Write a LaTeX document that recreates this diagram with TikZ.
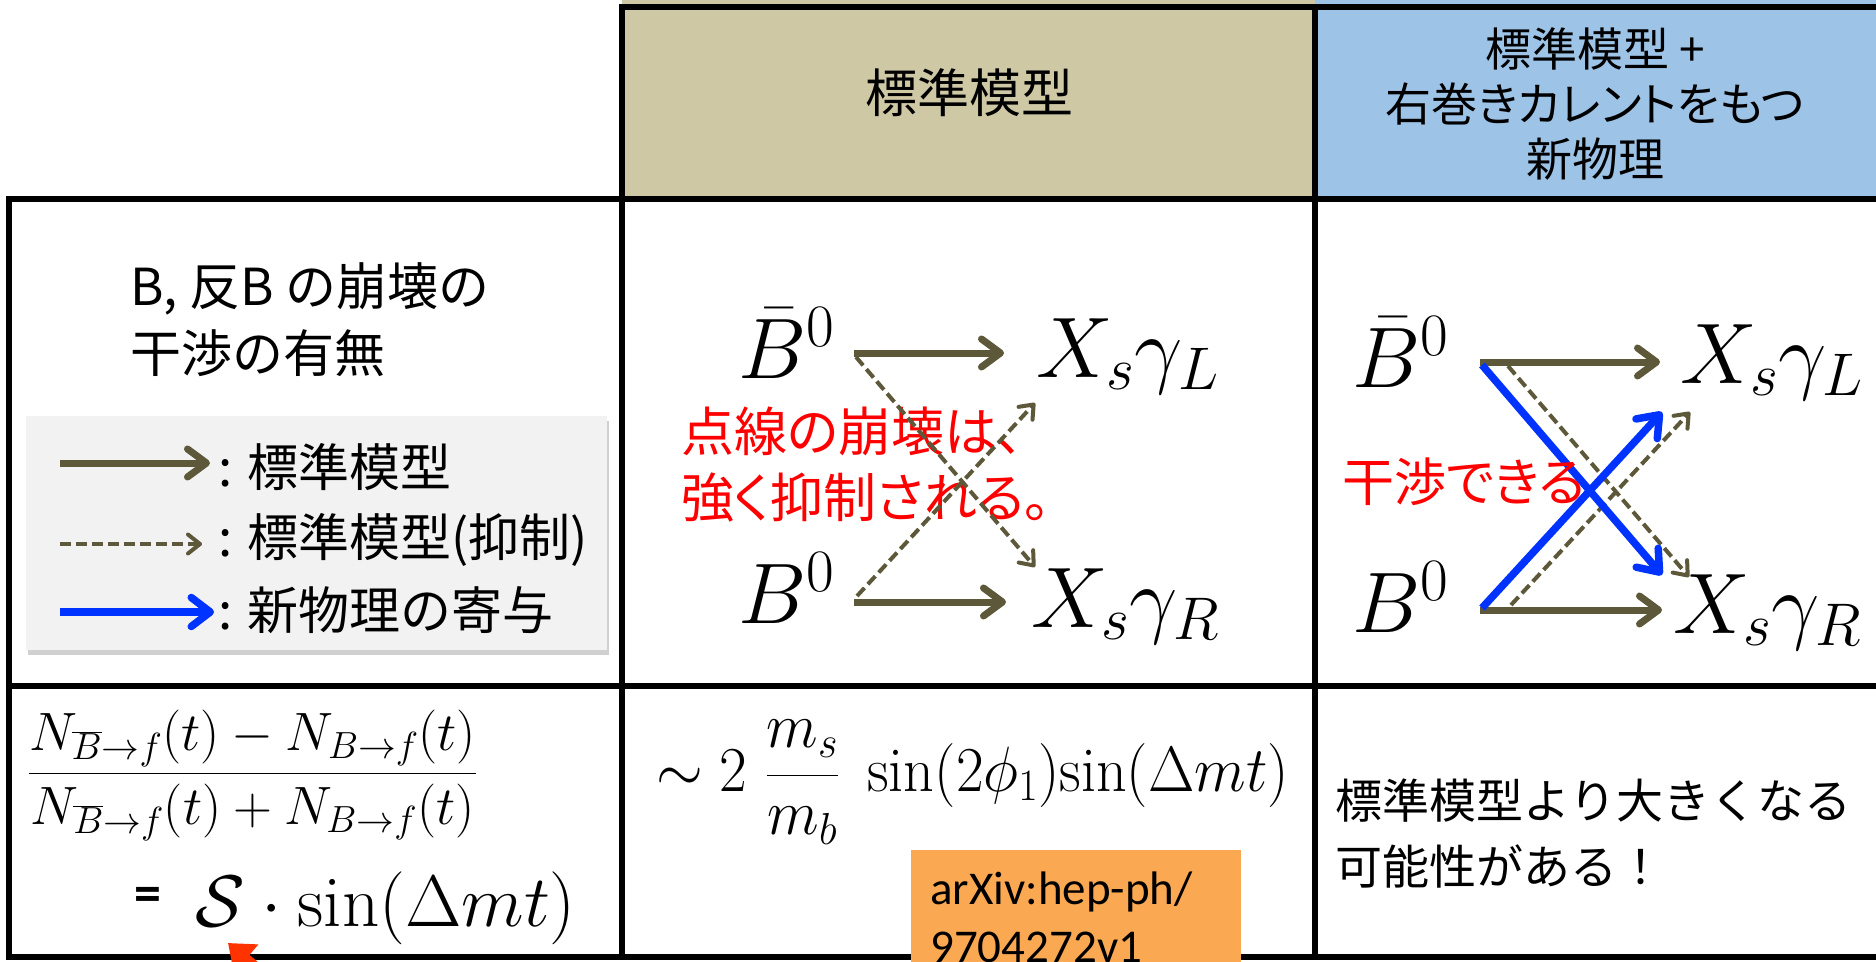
\RequirePackage{fix-cm}
\documentclass[tikz,border=0pt]{standalone}
\usepackage{fontspec}
\usepackage{graphicx}
\usetikzlibrary{arrows.meta,shadows}
\newfontfamily\jpfont{Noto Sans CJK JP}
\newfontfamily\jppfont[RawFeature=+palt]{Noto Sans CJK JP}
\newfontfamily\carlfont{Carlito}
\definecolor{hdrtan}{RGB}{206,200,165}
\definecolor{hdrblue}{RGB}{157,195,230}
\definecolor{smbrown}{RGB}{94,88,58}
\definecolor{npblue}{RGB}{0,51,255}
\definecolor{legbg}{RGB}{242,242,242}
\definecolor{refor}{RGB}{250,168,82}
\definecolor{ptred}{RGB}{255,51,0}
\tikzset{
  tbl/.style={line width=5.5pt, line cap=rect},
  mth/.style={inner sep=0pt, anchor=base west, font=\fontsize{86}{94}\selectfont},
  smarr/.style={draw=smbrown, line width=7pt, -{Straight Barb[round,length=19pt,width=28pt]}},
  dsharr/.style={draw=smbrown, line width=4pt, dash pattern=on 11pt off 5pt, -{Straight Barb[round,length=12pt,width=19pt]}},
  nparr/.style={draw=npblue, line width=7.5pt, -{Straight Barb[round,length=19pt,width=29pt]}},
  redtxt/.style={text=red, inner sep=0pt, align=left, anchor=west},
}
\begin{document}
\begin{tikzpicture}[x=1pt,y=-1pt]
\useasboundingbox (0,0) rectangle (1876,961);
\clip (0,0) rectangle (1876,961);
\fill[white] (0,0) rectangle (1876,961);
% header fills
\fill[hdrtan] (622,0) rectangle (1315,199);
\fill[hdrblue] (1315,0) rectangle (1876,199);
% table lines
\draw[tbl] (622,7) -- (1876,7);
\draw[tbl] (9,199) -- (1876,199);
\draw[tbl] (9,686) -- (1876,686);
\draw[tbl] (9,957) -- (1876,957);
\draw[tbl] (9,199) -- (9,957);
\draw[tbl] (622,7) -- (622,957);
\draw[tbl] (1315,7) -- (1315,957);
% headers
\node[inner sep=0pt, font=\jpfont\fontsize{52}{60}\selectfont] (hsm) at (969,93) {標準模型};
\node[inner sep=0pt, font=\jppfont\fontsize{46}{55}\selectfont, align=center] (hnp) at (1595,104) {標準模型 +\\右巻きカレントをもつ\\新物理};
% row 1, column 1
\node[inner sep=0pt, font=\jpfont\fontsize{51}{67}\selectfont, align=left, anchor=west] (qst) at (130,320) {B, 反B の崩壊の\\干渉の有無};
\node[fill=legbg, minimum width=581pt, minimum height=234pt, anchor=north west, inner sep=0pt,
      drop shadow={shadow xshift=2pt, shadow yshift=-5pt, opacity=0.3, fill=black!60}] (leg) at (26,416) {};
\coordinate (l1s) at (60,463); \coordinate (l1e) at (210,463);
\coordinate (l2s) at (60,544); \coordinate (l2e) at (202,544);
\coordinate (l3s) at (60,612); \coordinate (l3e) at (214,612);
\draw[smarr] (l1s) -- (l1e);
\draw[dsharr] (l2s) -- (l2e);
\draw[nparr] (l3s) -- (l3e);
\node[inner sep=0pt, anchor=west, font=\jpfont\fontsize{51}{60}\selectfont] (lt1) at (218,467) {: 標準模型};
\node[inner sep=0pt, anchor=west, font=\jpfont\fontsize{51}{60}\selectfont] (lt2) at (218,540) {: 標準模型(抑制)};
\node[inner sep=0pt, anchor=west, font=\jpfont\fontsize{51}{60}\selectfont] (lt3) at (218,610) {: 新物理の寄与};
% row 1, column 2
\node[mth] (bb2) at (738,378) {$\bar{B}^0$};
\node[mth] (xl2) at (1036,377) {$X_s\gamma_L$};
\node[mth] (b2) at (738,623) {$B^0$};
\node[mth] (xr2) at (1031,627) {$X_s\gamma_R$};
\coordinate (a1s) at (854,353); \coordinate (a1e) at (1004,353);
\coordinate (a2s) at (854,602); \coordinate (a2e) at (1006,602);
\coordinate (d1s) at (856,357); \coordinate (d1e) at (1035,567);
\coordinate (d2s) at (857,596); \coordinate (d2e) at (1035,403);
\node[redtxt, font=\jppfont\fontsize{53}{66}\selectfont] (sup) at (681,465) {点線の崩壊は、\\強く抑制される。};
\draw[smarr] (a1s) -- (a1e);
\draw[smarr] (a2s) -- (a2e);
\draw[dsharr] (d1s) -- (d1e);
\draw[dsharr] (d2s) -- (d2e);
% row 1, column 3
\node[mth] (bb3) at (1352,387) {$\bar{B}^0$};
\node[mth] (xl3) at (1680,383) {$X_s\gamma_L$};
\node[mth] (b3) at (1352,632) {$B^0$};
\node[mth] (xr3) at (1673,633) {$X_s\gamma_R$};
\coordinate (b1s) at (1480,362); \coordinate (b1e) at (1660,362);
\coordinate (b2s) at (1480,610); \coordinate (b2e) at (1662,610);
\coordinate (e1s) at (1508,366); \coordinate (e1e) at (1689,577);
\coordinate (e2s) at (1511,605); \coordinate (e2e) at (1690,412);
\coordinate (n1s) at (1482,365); \coordinate (n1e) at (1662,575);
\coordinate (n2s) at (1482,608); \coordinate (n2e) at (1662,412);
\draw[smarr] (b1s) -- (b1e);
\draw[smarr] (b2s) -- (b2e);
\draw[dsharr] (e1s) -- (e1e);
\draw[dsharr] (e2s) -- (e2e);
\draw[nparr] (n1s) -- (n1e);
\draw[nparr] (n2s) -- (n2e);
\node[redtxt, font=\jppfont\fontsize{52}{60}\selectfont] (itf) at (1342,482) {干渉できる};
% row 2, column 1
\node[inner sep=0pt, anchor=base west, font=\fontsize{54}{60}\selectfont] (asym) at (28,787)
  {$\displaystyle\frac{N_{\overline{B}\to f}(t)-N_{B\to f}(t)}{N_{\overline{B}\to f}(t)+N_{B\to f}(t)}$};
\node[inner sep=0pt, font=\carlfont\bfseries\fontsize{54}{60}\selectfont] (eqs) at (148,899) {=};
\node[inner sep=0pt, anchor=base west, font=\fontsize{73}{78}\selectfont] (sfm) at (195,926) {$\mathcal{S}\cdot\sin(\Delta m t)$};
% row 2, column 2
\node[inner sep=0pt, anchor=base west, font=\fontsize{64}{70}\selectfont] (smf) at (656,791)
  {\scalebox{0.94}[1]{$\sim 2\ \displaystyle\frac{m_s}{m_b}\ \sin(2\phi_1)\mathord{\sin}(\Delta m t)$}};
\node[fill=refor, minimum width=330pt, minimum height=130pt, anchor=north west, inner sep=0pt] (refbox) at (911,850) {};
\node[inner sep=0pt, anchor=north west, align=left, font=\carlfont\fontsize{47}{58}\selectfont] (reftxt) at (930,872) {arXiv:hep-ph/\\9704272v1};
% row 2, column 3
\node[inner sep=0pt, anchor=west, align=left, font=\jpfont\fontsize{47}{66}\selectfont] (lgr) at (1335,833) {標準模型より大きくなる\\可能性がある！};
% red pointer (cut off at the bottom)
\coordinate (rs) at (300,1005); \coordinate (rt) at (228,943);
\draw[ptred, line width=10pt, -{Triangle[length=24pt,width=36pt]}] (rs) -- (rt);
\end{tikzpicture}
\end{document}
